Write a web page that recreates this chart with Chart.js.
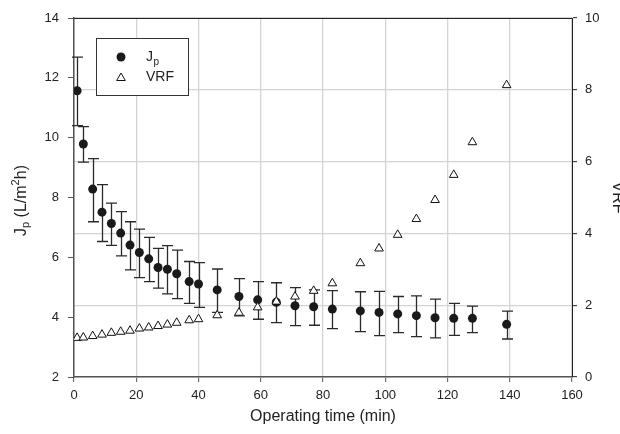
<!DOCTYPE html>
<html lang="en">
<head>
  <meta charset="UTF-8" />
  <title>Jp and VRF vs operating time</title>
  <script src="https://cdn.jsdelivr.net/npm/chart.js"></script>
  <style>
    html, body {
      margin: 0;
      padding: 0;
      background: #fff;
    }
    #wrap {
      width: 620px;
      height: 434px;
      position: relative;
    }
  </style>
</head>
<body>
  <div id="wrap">
    <canvas id="chart" width="620" height="434"></canvas>
  </div>

  <script>
    // operating time (min)
    const times = [1, 3, 6, 9, 12, 15, 18, 21, 24, 27, 30, 33, 37, 40, 46, 53, 59, 65, 71, 77, 83, 92, 98, 104, 110, 116, 122, 128, 139];
    // permeate flux Jp (L/m2h) with error bar ends
    const jp = [11.57, 9.79, 8.28, 7.51, 7.13, 6.81, 6.41, 6.16, 5.95, 5.66, 5.60, 5.45, 5.19, 5.11, 4.91, 4.69, 4.58, 4.50, 4.38, 4.35, 4.27, 4.21, 4.16, 4.11, 4.05, 3.98, 3.96, 3.96, 3.76];
    const jpHigh = [12.69, 10.37, 9.30, 8.43, 7.81, 7.53, 7.19, 6.94, 6.67, 6.30, 6.39, 6.24, 5.86, 5.82, 5.61, 5.29, 5.19, 5.15, 4.99, 4.91, 4.89, 4.85, 4.86, 4.69, 4.71, 4.60, 4.46, 4.37, 4.20];
    const jpLow = [10.40, 9.18, 7.19, 6.53, 6.40, 6.05, 5.58, 5.32, 5.19, 4.97, 4.78, 4.62, 4.46, 4.33, 4.16, 4.04, 3.93, 3.82, 3.72, 3.73, 3.62, 3.52, 3.38, 3.48, 3.35, 3.31, 3.39, 3.48, 3.27];
    // volume reduction factor
    const vrf = [1.09, 1.10, 1.14, 1.18, 1.23, 1.26, 1.29, 1.35, 1.38, 1.42, 1.46, 1.51, 1.58, 1.61, 1.72, 1.79, 1.94, 2.10, 2.24, 2.40, 2.61, 3.17, 3.58, 3.96, 4.40, 4.93, 5.63, 6.54, 8.13];

    const xTicks = [0, 20, 40, 60, 80, 100, 120, 140, 160];
    const jpTicks = [2, 4, 6, 8, 10, 12, 14];
    const vrfTicks = [0, 2, 4, 6, 8, 10];

    const FONT = "'Liberation Sans', Arial, sans-serif";
    const TEXT = "#222";
    const GRID = "#d4d4d4";

    // error bars under the Jp dots
    const errorBars = {
      id: "errorBars",
      beforeDatasetsDraw(chart) {
        const ctx = chart.ctx;
        const xs = chart.scales.x, ys = chart.scales.y;
        ctx.save();
        ctx.strokeStyle = "#2a2a2a";
        ctx.lineWidth = 1.3;
        times.forEach((t, i) => {
          const px = Math.round(xs.getPixelForValue(t)) + 0.5;
          const top = ys.getPixelForValue(jpHigh[i]);
          const bot = ys.getPixelForValue(jpLow[i]);
          ctx.beginPath();
          ctx.moveTo(px, top);
          ctx.lineTo(px, bot);
          ctx.moveTo(px - 5.5, top);
          ctx.lineTo(px + 5.5, top);
          ctx.moveTo(px - 5.5, bot);
          ctx.lineTo(px + 5.5, bot);
          ctx.stroke();
        });
        ctx.restore();
      }
    };

    // frame, axis titles and legend box
    const extras = {
      id: "extras",
      afterDraw(chart) {
        const ctx = chart.ctx;
        const a = chart.chartArea;
        ctx.save();

        // top border
        ctx.strokeStyle = "#222";
        ctx.lineWidth = 1;
        ctx.beginPath();
        ctx.moveTo(a.left, a.top + 0.5);
        ctx.lineTo(a.right, a.top + 0.5);
        ctx.stroke();

        ctx.fillStyle = TEXT;
        ctx.textBaseline = "middle";

        // x title
        ctx.font = "16px " + FONT;
        ctx.textAlign = "center";
        ctx.fillText("Operating time (min)", (a.left + a.right) / 2, 417);

        // left title: J_p (L/m^2h)
        ctx.save();
        ctx.translate(22, (a.top + a.bottom) / 2 + 3);
        ctx.rotate(-Math.PI / 2);
        const parts = [
          { s: "J", size: 16, dy: 0 },
          { s: "p", size: 11, dy: 4 },
          { s: " (L/m", size: 16, dy: 0 },
          { s: "2", size: 11, dy: -6 },
          { s: "h)", size: 16, dy: 0 }
        ];
        let total = 0;
        parts.forEach(p => {
          ctx.font = p.size + "px " + FONT;
          p.w = ctx.measureText(p.s).width;
          total += p.w;
        });
        let cx = -total / 2;
        ctx.textAlign = "left";
        parts.forEach(p => {
          ctx.font = p.size + "px " + FONT;
          ctx.fillText(p.s, cx, p.dy);
          cx += p.w;
        });
        ctx.restore();

        // right title, partly cut by the edge like the original
        ctx.save();
        ctx.translate(617, (a.top + a.bottom) / 2);
        ctx.rotate(Math.PI / 2);
        ctx.font = "16px " + FONT;
        ctx.textAlign = "center";
        ctx.fillText("VRF", 0, 0);
        ctx.restore();

        // legend
        const lx = a.left + 22, ly = a.top + 20;
        ctx.fillStyle = "#fff";
        ctx.fillRect(lx, ly, 92, 57);
        ctx.strokeStyle = "#333";
        ctx.lineWidth = 1;
        ctx.strokeRect(lx + 0.5, ly + 0.5, 92, 57);

        ctx.fillStyle = "#1a1a1a";
        ctx.beginPath();
        ctx.arc(lx + 25, ly + 19, 4.5, 0, Math.PI * 2);
        ctx.fill();

        const tx = lx + 25, ty = ly + 40, r = 5;
        ctx.beginPath();
        ctx.moveTo(tx, ty - r);
        ctx.lineTo(tx + r * 0.866, ty + r / 2);
        ctx.lineTo(tx - r * 0.866, ty + r / 2);
        ctx.closePath();
        ctx.fillStyle = "#fff";
        ctx.fill();
        ctx.strokeStyle = "#111";
        ctx.stroke();

        ctx.fillStyle = TEXT;
        ctx.textAlign = "left";
        ctx.font = "14px " + FONT;
        ctx.fillText("J", lx + 50, ly + 19);
        const jw = ctx.measureText("J").width;
        ctx.font = "10px " + FONT;
        ctx.fillText("p", lx + 50 + jw + 0.5, ly + 24);
        ctx.font = "14px " + FONT;
        ctx.fillText("VRF", lx + 50, ly + 39);

        ctx.restore();
      }
    };

    new Chart(document.getElementById("chart"), {
      type: "scatter",
      data: {
        datasets: [
          {
            label: "Jp",
            data: times.map((t, i) => ({ x: t, y: jp[i] })),
            yAxisID: "y",
            pointStyle: "circle",
            pointRadius: 4.5,
            backgroundColor: "#1a1a1a",
            borderColor: "#1a1a1a",
            borderWidth: 0,
            order: 2
          },
          {
            label: "VRF",
            data: times.map((t, i) => ({ x: t, y: vrf[i] })),
            yAxisID: "y2",
            pointStyle: "triangle",
            pointRadius: 5,
            backgroundColor: "#fff",
            borderColor: "#111",
            borderWidth: 1,
            order: 1
          }
        ]
      },
      options: {
        responsive: false,
        animation: false,
        layout: { padding: { top: 18, left: 0, right: 0, bottom: 0 } },
        plugins: {
          legend: { display: false },
          tooltip: { enabled: false }
        },
        scales: {
          x: {
            type: "linear",
            min: 0,
            max: 160,
            afterBuildTicks: s => { s.ticks = xTicks.map(v => ({ value: v })); },
            afterFit: s => { s.height = 57; },
            ticks: { font: { size: 13, family: FONT }, color: TEXT, padding: 6, maxRotation: 0 },
            grid: { color: GRID, lineWidth: 1.3, tickLength: 5, tickColor: "#555", tickWidth: 1 },
            border: { color: "#555", width: 1.5 }
          },
          y: {
            position: "left",
            min: 2,
            max: 14,
            afterBuildTicks: s => { s.ticks = jpTicks.map(v => ({ value: v })); },
            afterFit: s => { s.width = 74; },
            ticks: { font: { size: 13, family: FONT }, color: TEXT, padding: 9 },
            grid: { drawOnChartArea: false, tickLength: 6, tickColor: "#555", tickWidth: 1 },
            border: { color: "#555", width: 1.5 }
          },
          y2: {
            position: "right",
            min: 0,
            max: 10,
            afterBuildTicks: s => { s.ticks = vrfTicks.map(v => ({ value: v })); },
            afterFit: s => { s.width = 48; },
            ticks: { font: { size: 13, family: FONT }, color: TEXT, padding: 8 },
            grid: { color: GRID, lineWidth: 1.3, tickLength: 5, tickColor: "#222", tickWidth: 1 },
            border: { color: "#222", width: 1 }
          }
        }
      },
      plugins: [errorBars, extras]
    });
  </script>
</body>
</html>
